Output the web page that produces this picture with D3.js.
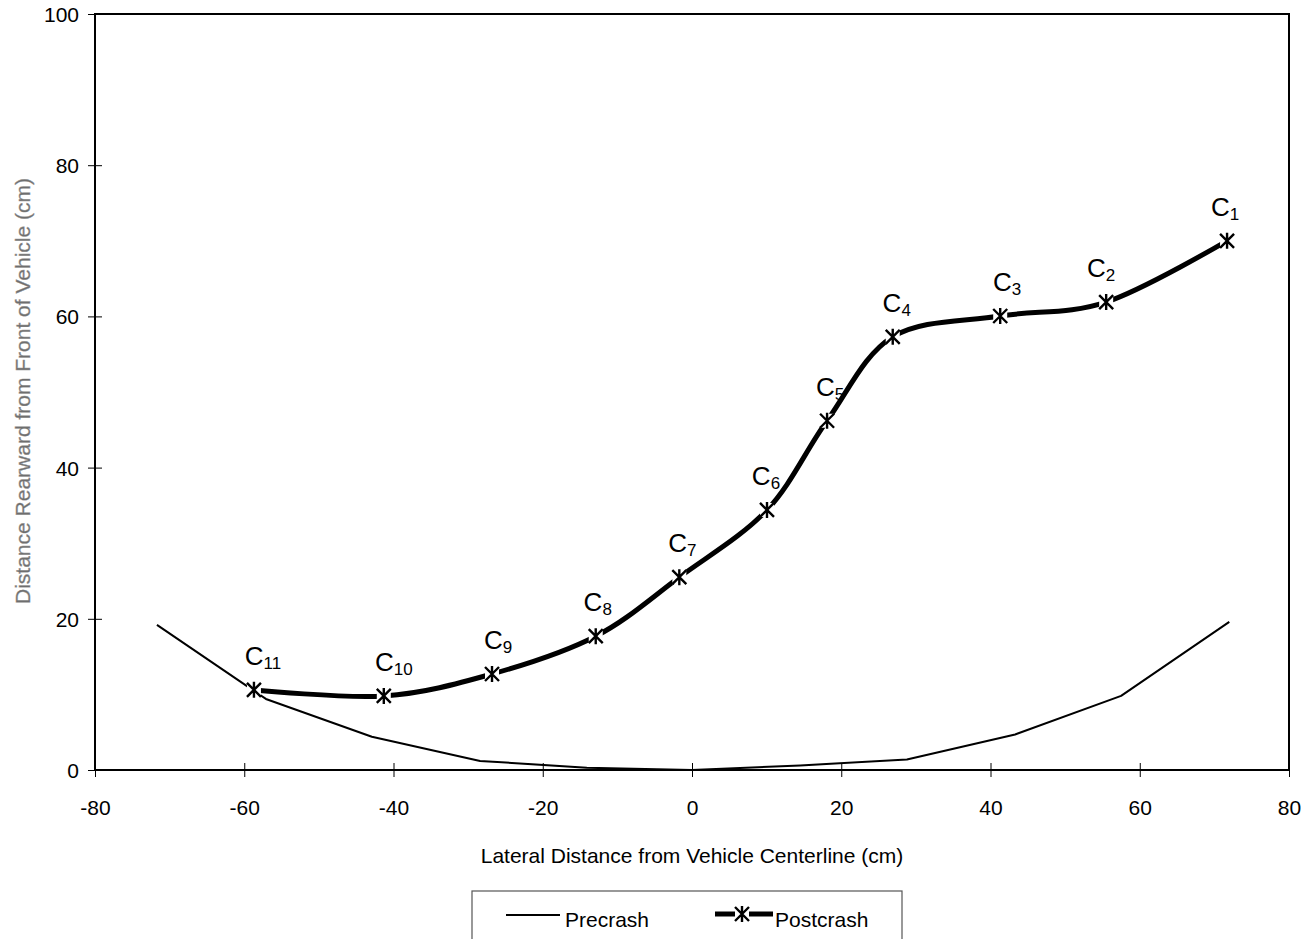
<!DOCTYPE html>
<html><head><meta charset="utf-8">
<script src="https://cdn.jsdelivr.net/npm/d3@7"></script>
<style>
html,body{margin:0;padding:0;background:#fff;}
svg{display:block;font-family:"Liberation Sans",Arial,sans-serif;}
</style></head>
<body>
<svg id="c" width="1314" height="939"></svg>
<script>
const xTicks = [-80,-60,-40,-20,0,20,40,60,80];
const yTicks = [0,20,40,60,80,100];
const preX = [-71.7,-57.1,-42.9,-28.4,-14.1,0,14.5,28.8,43.3,57.5,72];
const preY = [19.2,9.4,4.4,1.2,0.3,0,0.6,1.4,4.7,9.8,19.6];
const postNames = ["11","10","9","8","7","6","5","4","3","2","1"];
const postX = [-58.7,-41.3,-26.8,-12.9,-1.7,10.05,18.1,26.9,41.3,55.5,71.7];
const postY = [10.6,9.8,12.7,17.7,25.5,34.4,46.2,57.3,60.05,61.9,70.0];
const labelDx = [9,10,6,2,3,-1,3,4,7,-5,-2];

const svg = d3.select("#c");
const L=95,R=1289,T=14,B=770;
const FF="Liberation Sans, Arial, sans-serif";
const x = d3.scaleLinear().domain([-80,80]).range([L,R]);
const y = d3.scaleLinear().domain([0,100]).range([B,T]);

// frame
svg.append("rect").attr("x",L).attr("y",T).attr("width",R-L).attr("height",B-T)
  .attr("fill","none").attr("stroke","#000").attr("stroke-width",2);

// y axis
const ya = svg.append("g").attr("transform",`translate(${L},0)`)
  .call(d3.axisLeft(y).tickValues(yTicks).tickSize(7).tickFormat(d=>String(d)));
ya.select(".domain").remove();
ya.selectAll(".tick line").attr("x2",7).attr("x1",-7).attr("stroke","#000").attr("stroke-width",1);
ya.selectAll(".tick text").attr("x",-16).attr("dy","0.36em").attr("font-size",21).attr("fill","#000").attr("font-family",FF);

// x axis
const xa = svg.append("g").attr("transform",`translate(0,${B})`)
  .call(d3.axisBottom(x).tickValues(xTicks).tickSize(7).tickFormat(d=>String(d)));
xa.select(".domain").remove();
xa.selectAll(".tick line").attr("y1",-7).attr("y2",7).attr("stroke","#000").attr("stroke-width",1);
xa.selectAll(".tick text").attr("y",37).attr("dy","0.36em").attr("font-size",21).attr("fill","#000").attr("font-family",FF);

// axis titles
svg.append("text").attr("x",692).attr("y",863).attr("text-anchor","middle")
  .attr("font-size",21).attr("fill","#000").text("Lateral Distance from Vehicle Centerline (cm)");
svg.append("text").attr("transform",`translate(30,391) rotate(-90)`).attr("text-anchor","middle")
  .attr("font-size",21).attr("fill","#6e6e6e").attr("stroke","#9a9a9a").attr("stroke-width",0.4)
  .text("Distance Rearward from Front of Vehicle (cm)");

// precrash
const pre = preX.map((v,i)=>[v,preY[i]]);
svg.append("path").datum(pre)
  .attr("d",d3.line().x(d=>x(d[0])).y(d=>y(d[1])))
  .attr("fill","none").attr("stroke","#000").attr("stroke-width",2).attr("stroke-linejoin","round");

// postcrash
const post = postX.map((v,i)=>[v,postY[i]]);
svg.append("path").datum(post)
  .attr("d",d3.line().curve(d3.curveCardinal.tension(0)).x(d=>x(d[0])).y(d=>y(d[1])))
  .attr("fill","none").attr("stroke","#000").attr("stroke-width",5);

function marker(g,cx,cy){
  const s=7;
  g.append("path").attr("d",`M${cx-s},${cy-s}L${cx+s},${cy+s}M${cx-s},${cy+s}L${cx+s},${cy-s}M${cx},${cy-s-1}L${cx},${cy+s+1}`)
   .attr("stroke","#000").attr("stroke-width",2.4).attr("fill","none");
}
const mg = svg.append("g");
post.forEach(d=>{
  mg.append("rect").attr("x",x(d[0])-7).attr("y",y(d[1])-7).attr("width",14).attr("height",14).attr("fill","#fff");
  marker(mg,x(d[0]),y(d[1]));
});

// labels
post.forEach((d,i)=>{
  const t = svg.append("text").attr("x",x(d[0])+labelDx[i]).attr("y",y(d[1])-25)
    .attr("text-anchor","middle").attr("font-size",26).attr("fill","#000");
  t.append("tspan").text("C");
  t.append("tspan").attr("font-size",17).attr("dy",4).text(postNames[i]);
});

// legend
const lg = svg.append("g");
lg.append("rect").attr("x",472).attr("y",891).attr("width",430).attr("height",60)
  .attr("fill","#fff").attr("stroke","#555").attr("stroke-width",1.2);
lg.append("line").attr("x1",506).attr("x2",560).attr("y1",915).attr("y2",915).attr("stroke","#000").attr("stroke-width",2);
lg.append("text").attr("x",565).attr("y",927).attr("font-size",21).text("Precrash");
lg.append("line").attr("x1",715).attr("x2",773).attr("y1",914).attr("y2",914).attr("stroke","#000").attr("stroke-width",5);
lg.append("rect").attr("x",735).attr("y",907).attr("width",14).attr("height",14).attr("fill","#fff");
marker(lg,742,914);
lg.append("text").attr("x",775).attr("y",927).attr("font-size",21).text("Postcrash");
</script>
</body></html>
